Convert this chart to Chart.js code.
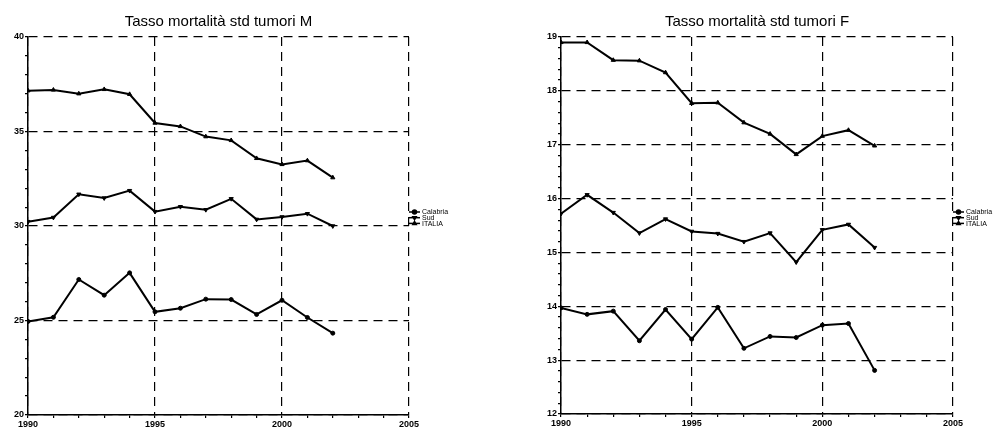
<!DOCTYPE html>
<html lang="it">
<head>
<meta charset="UTF-8" />
<title>Tasso mortalità std tumori</title>
<style>
  html, body { margin: 0; padding: 0; background: #fff; }
  .box { position: absolute; top: 0; height: 432px; }
  #boxM { left: 0; width: 500px; }
  #boxF { left: 502px; width: 503px; }
</style>
</head>
<body>
<div class="box" id="boxM"><canvas id="chartM"></canvas></div>
<div class="box" id="boxF"><canvas id="chartF"></canvas></div>
<script src="https://cdn.jsdelivr.net/npm/chart.js"></script>
<script>
  const years = [1990, 1991, 1992, 1993, 1994, 1995, 1996, 1997, 1998, 1999, 2000, 2001, 2002];
  const seriesNames = ['Calabria', 'Sud', 'ITALIA'];
  const xLabels = [1990, 1995, 2000, 2005];

  // maschi
  const calabriaM = [24.95, 25.17, 27.17, 26.34, 27.52, 25.46, 25.65, 26.13, 26.11, 25.32, 26.07, 25.16, 24.33];
  const sudM = [30.23, 30.45, 31.68, 31.48, 31.87, 30.76, 31.02, 30.86, 31.44, 30.35, 30.48, 30.65, 30.0];
  const italiaM = [37.16, 37.2, 37.0, 37.23, 36.97, 35.45, 35.27, 34.73, 34.53, 33.58, 33.26, 33.46, 32.56];
  const yLabelsM = [20, 25, 30, 35, 40];

  // femmine
  const calabriaF = [13.97, 13.85, 13.91, 13.36, 13.94, 13.39, 13.98, 13.22, 13.44, 13.42, 13.65, 13.68, 12.81];
  const sudF = [15.72, 16.07, 15.74, 15.36, 15.62, 15.39, 15.35, 15.2, 15.36, 14.82, 15.42, 15.52, 15.09];
  const italiaF = [18.9, 18.9, 18.57, 18.56, 18.34, 17.77, 17.78, 17.41, 17.2, 16.82, 17.16, 17.27, 16.98];
  const yLabelsF = [12, 13, 14, 15, 16, 17, 18, 19];

  const tickFont = { family: "'Liberation Sans Narrow', 'Liberation Sans', Arial, sans-serif", size: 9, weight: 'bold' };
  const dash = [9, 6];
  const isLabel = (list, v) => list.some(l => Math.abs(l - v) < 1e-6);

  // legenda a destra con linea + marcatore
  const sideLegend = {
    id: 'sideLegend',
    afterDraw(chart, args, opts) {
      const ctx = chart.ctx;
      const x0 = chart.chartArea.right + opts.dx;
      ctx.save();
      ctx.font = "7px 'Liberation Sans', Arial, sans-serif";
      ctx.textBaseline = 'middle';
      chart.data.datasets.forEach((ds, i) => {
        const y = opts.top + i * opts.step;
        ctx.strokeStyle = '#000';
        ctx.fillStyle = '#000';
        ctx.lineWidth = 1.5;
        ctx.beginPath();
        ctx.moveTo(x0, y);
        ctx.lineTo(x0 + 11, y);
        ctx.stroke();
        Chart.helpers.drawPoint(ctx, { pointStyle: ds.pointStyle, radius: 2, rotation: ds.pointRotation || 0, borderWidth: 1 }, x0 + 5.5, y);
        ctx.fillText(ds.label, x0 + 13, y + 0.5);
      });
      ctx.restore();
    }
  };

  function makeDatasets(cal, sud, ita) {
    const styles = [
      { pointStyle: 'circle', pointRotation: 0 },
      { pointStyle: 'triangle', pointRotation: 180 },
      { pointStyle: 'triangle', pointRotation: 0 }
    ];
    return [cal, sud, ita].map((vals, i) => ({
      label: seriesNames[i],
      data: years.map((y, j) => ({ x: y, y: vals[j] })),
      borderColor: '#000',
      backgroundColor: '#000',
      borderWidth: 2,
      pointRadius: i === 0 ? 2 : 2.4,
      pointBorderWidth: 1,
      pointStyle: styles[i].pointStyle,
      pointRotation: styles[i].pointRotation,
      tension: 0
    }));
  }

  function makeChart(id, title, datasets, yMin, yMax, yStep, yLabels, pad, yWidth, xHeight, legendTop) {
    return new Chart(document.getElementById(id), {
      type: 'line',
      data: { datasets },
      plugins: [sideLegend],
      options: {
        responsive: true,
        maintainAspectRatio: false,
        animation: false,
        layout: { padding: pad },
        plugins: {
          legend: { display: false },
          tooltip: { enabled: false },
          title: {
            display: true,
            text: title,
            color: '#000',
            fullSize: false,
            font: { family: "'Liberation Sans', Arial, sans-serif", size: 15, weight: 'normal' },
            padding: { top: 13, bottom: 6 }
          },
          sideLegend: { dx: 0, top: legendTop, step: 5.7 }
        },
        scales: {
          x: {
            type: 'linear',
            min: 1990,
            max: 2005,
            afterFit: s => { s.height = xHeight; },
            border: { display: true, color: '#000', width: 1.5, dash: dash },
            grid: {
              color: c => (c.tick && c.tick.value % 5 === 0) ? '#000' : 'rgba(0,0,0,0)',
              lineWidth: 1.2,
              drawTicks: true,
              tickLength: 3,
              tickColor: '#000',
              tickBorderDash: []
            },
            ticks: {
              stepSize: 1,
              autoSkip: false,
              maxRotation: 0,
              padding: 1,
              color: '#000',
              font: tickFont,
              callback: v => isLabel(xLabels, v) ? String(v) : ''
            }
          },
          y: {
            min: yMin,
            max: yMax,
            afterFit: s => { s.width = yWidth; },
            border: { display: true, color: '#000', width: 1.5, dash: dash },
            grid: {
              color: c => (c.tick && isLabel(yLabels, c.tick.value)) ? '#000' : 'rgba(0,0,0,0)',
              lineWidth: 1.2,
              drawTicks: true,
              tickLength: 3,
              tickColor: '#000',
              tickBorderDash: []
            },
            ticks: {
              stepSize: yStep,
              autoSkip: false,
              padding: 1,
              color: '#000',
              font: tickFont,
              callback: v => isLabel(yLabels, v) ? String(Math.round(v)) : ''
            }
          }
        }
      }
    });
  }

  makeChart('chartM', 'Tasso mortalità std tumori M', makeDatasets(calabriaM, sudM, italiaM),
    20, 40, 1, yLabelsM, { left: 8, right: 91, top: 0, bottom: 0 }, 20, 17, 212);
  makeChart('chartF', 'Tasso mortalità std tumori F', makeDatasets(calabriaF, sudF, italiaF),
    12, 19, 0.2, yLabelsF, { left: 39, right: 52, top: 0, bottom: 0 }, 20, 18, 212);
</script>
</body>
</html>
